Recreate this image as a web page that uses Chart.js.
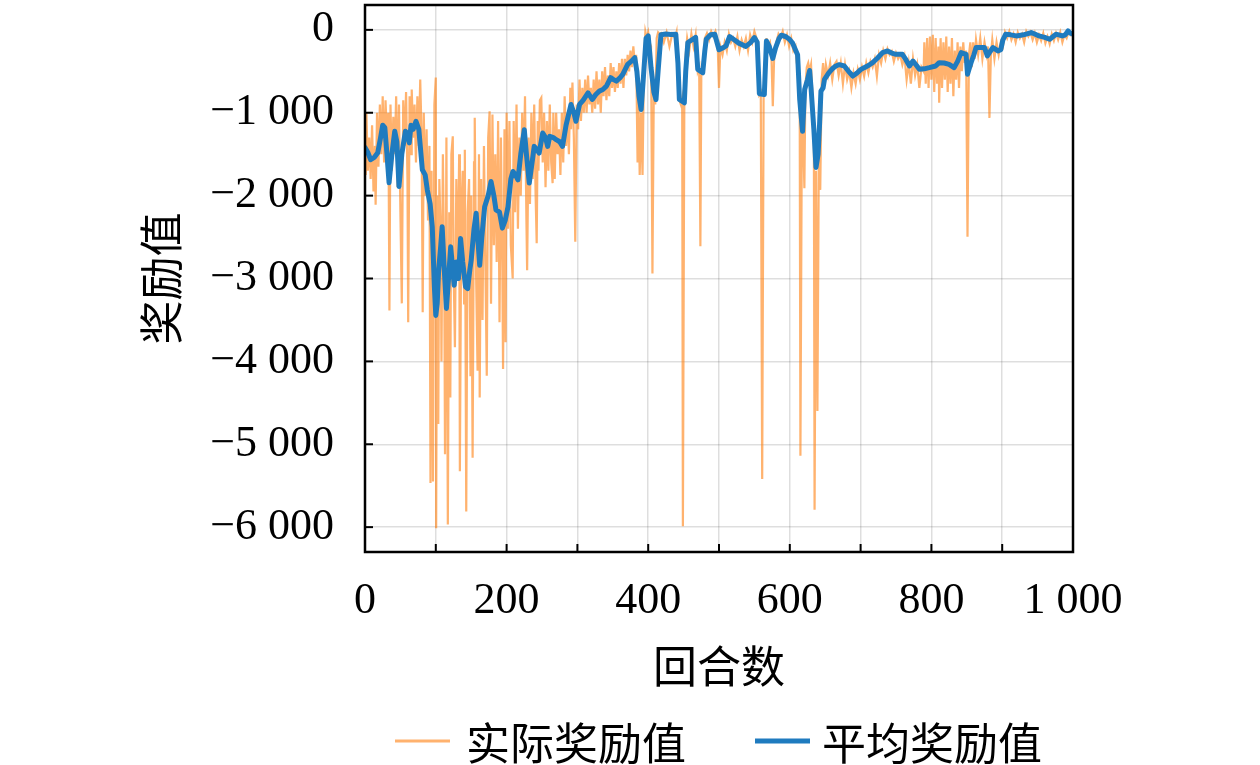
<!DOCTYPE html>
<html>
<head>
<meta charset="utf-8">
<script src="https://cdn.jsdelivr.net/npm/chart.js@4.4.1/dist/chart.umd.min.js"></script>
<style>
  html, body { margin: 0; padding: 0; background: #ffffff; }
  canvas { display: block; }
</style>
</head>
<body>
<canvas id="c" width="1260" height="765"></canvas>
<script>
// ---------------- DATA ----------------
const seriesNames = ['实际奖励值', '平均奖励值'];
const xAxisTitle = '回合数';
const yAxisTitle = '奖励值';
const episodeTicks = [0, 100, 200, 300, 400, 500, 600, 700, 800, 900, 1000];
const episodeLabelTicks = [0, 200, 400, 600, 800, 1000];
const rewardTicks = [-6000, -5000, -4000, -3000, -2000, -1000, 0];
const episodeRange = [0, 1000];
const rewardRange = [-6300, 300];

// actual (raw) reward per episode: [episode, reward]
const actualReward = [
  [0,-1200],[1,-1750],[2,-1000],[4,-1700],[6,-1300],[8,-1800],[10,-1150],[12,-1950],[14,-1400],[15,-2110],
  [17,-1000],[19,-1650],[21,-900],[23,-1500],[25,-800],[27,-1600],[29,-850],[31,-1300],[33,-1000],[34.5,-3385],
  [36,-900],[38,-1700],[40,-1050],[42,-1500],[44,-800],[46,-1900],[48,-900],[50,-2200],[52,-3300],[54,-850],
  [56,-1400],[58,-750],[60,-1800],[61,-3527],[63,-800],[65,-1500],[66,-720],[68,-1300],[70,-900],[72,-1600],
  [74,-800],[76,-1400],[78,-600],[80,-1300],[81.5,-3406],[83,-1000],[85,-2000],[87,-1200],[89,-2300],[91,-1400],
  [92.5,-5466],[94,-1700],[96,-5450],[98,-900],[100,-575],[100.5,-6012],[102,-2000],[103.5,-4756],[105,-1800],[107,-2500],
  [108,-4000],[110,-1500],[112,-3000],[113,-5120],[115,-1300],[117,-5967],[119,-2200],[120.5,-4436],[122,-1500],[124,-1285],
  [125,-2800],[127,-3830],[129,-1800],[131,-3000],[133,-1500],[134,-5325],[136,-2200],[138,-1700],[140,-3300],[141,-1446],
  [143,-5810],[145,-2200],[147,-1800],[149,-4180],[150,-2000],[152,-5164],[154,-1600],[155,-1060],[157,-3000],[159,-4113],
  [161,-1500],[162,-4436],[164,-1800],[166,-3500],[168,-1400],[170,-2800],[172,-4173],[174,-1300],[176,-982],[178,-3305],
  [180,-1022],[182,-2600],[184,-1500],[186,-2800],[188,-1100],[190,-3527],[192,-1300],[194,-2900],[195,-4093],[197,-1200],
  [198.5,-3770],[200,-1000],[202,-2400],[204,-1100],[206,-2600],[208.6,-3000],[210,-1100],[212,-2200],[214,-900],[216,-2400],
  [218,-1300],[220,-2000],[222,-1000],[224,-1700],[226,-800],[228,-2300],[229,-2900],[231,-1300],[233,-2100],[235,-1000],
  [237,-1800],[239,-900],[241,-2000],[242.5,-2575],[244,-1100],[245,-1700],[247,-850],[249,-820],[251,-1600],[253,-1000],
  [255,-1900],[257,-1100],[259,-1700],[261,-900],[263,-1600],[265,-1850],[266,-1000],[268,-1800],[270,-1000],[272,-1500],
  [274,-1200],[276,-1750],[278,-1000],[280,-1600],[282,-800],[284,-1400],[286,-1000],[288,-1500],[290,-700],[291,-1200],
  [293,-636],[295,-1300],[297,-2557],[299,-900],[301,-1200],[303,-600],[305,-1100],[307,-700],[309,-1000],[311,-600],
  [313,-1000],[315,-550],[317,-900],[319,-700],[321,-1000],[323,-600],[325,-950],[327,-500],[329,-900],[331,-600],
  [333,-1000],[335,-500],[337,-800],[339,-450],[341,-850],[343,-550],[345,-800],[347,-400],[349,-700],[351,-450],
  [353,-750],[355,-500],[357,-700],[359,-400],[361,-650],[363,-350],[365,-700],[367,-350],[369,-550],[371,-300],
  [373,-500],[375,-250],[377,-450],[379,-200],[381,-400],[383,-300],[385,-1600],[386,-700],[388,-1750],[390,-1000],
  [392,-1750],[394,-400],[396,-20],[398,-100],[400,-30],[402,-150],[404,-200],[406,-2940],[408,-600],[410,-900],
  [412,-100],[414,-30],[416,-50],[418,-40],[422,-150],[426,-30],[430,-200],[434,-50],[438,-100],[440,-30],
  [442,-600],[444,-850],[446,-900],[448,-820],[449,-5990],[451,-900],[453,-300],[455,-100],[458,-250],[461,-50],
  [464,-200],[467,-60],[470,-500],[472,-450],[473.7,-2610],[475,-550],[478,-500],[480,-100],[483,-40],[486,-120],
  [489,-20],[492,-80],[495,-20],[498,-150],[500,-700],[502,-200],[505,-300],[508,-150],[511,-250],[514,-50],
  [517,-150],[520,-100],[523,-200],[526,-80],[529,-250],[532,-120],[535,-200],[538,-100],[541,-250],[544,-60],
  [547,-150],[550,-20],[553,-100],[555,-200],[557,-780],[559,-750],[561,-5420],[563,-800],[565,-780],[567,-100],
  [569,-200],[572,-150],[574,-300],[576,-921],[578,-300],[581,-150],[584,-50],[587,-100],[590,-20],[593,-150],
  [596,-60],[599,-200],[602,-100],[605,-250],[608,-200],[610,-400],[612,-500],[614,-900],[615,-5140],[617,-1200],
  [619,-1300],[620.6,-1910],[622,-700],[624,-450],[626,-400],[628,-500],[630,-420],[632,-800],[634,-1300],[635,-5790],
  [637,-1700],[639,-4600],[641,-1500],[643,-1931],[645,-600],[647,-400],[649,-650],[651,-420],[654,-550],[657,-400],
  [660,-600],[663,-420],[666,-380],[669,-550],[672,-400],[675,-650],[678,-420],[681,-600],[684,-500],[687,-700],
  [690,-520],[693,-650],[696,-480],[699,-600],[702,-450],[705,-560],[708,-400],[711,-520],[714,-380],[717,-450],
  [720,-350],[723,-560],[726,-300],[729,-400],[732,-250],[735,-350],[738,-230],[741,-300],[744,-260],[747,-380],
  [750,-280],[753,-350],[756,-300],[759,-420],[762,-320],[765,-600],[768,-400],[771,-650],[774,-350],[777,-550],
  [780,-420],[783,-700],[786,-450],[789,-500],[790,-150],[792,-650],[794,-100],[796,-700],[798,-80],[800,-600],
  [802,-60],[804,-750],[806,-100],[808,-650],[810,-200],[811,-880],[813,-100],[815,-700],[817,-150],[819,-600],
  [821,-80],[823,-750],[825,-200],[827,-650],[829,-100],[831,-800],[833,-250],[835,-600],[837,-150],[839,-700],
  [841,-200],[843,-500],[845,-150],[847,-400],[849,-250],[851,-2497],[853,-300],[855,-150],[857,-450],[859,-150],
  [861,-350],[863,-120],[866,-300],[869,-100],[872,-350],[875,-150],[878,-300],[880,-200],[882,-1062],[884,-300],
  [886,-120],[889,-350],[892,-150],[895,-300],[898,-150],[901,-200],[904,-30],[907,-100],[910,-20],[913,-120],
  [916,-50],[919,-150],[922,-30],[925,-100],[928,-50],[931,-150],[934,-20],[937,-80],[940,-30],[943,-120],
  [946,-40],[949,-150],[952,-60],[955,-130],[958,-40],[961,-160],[964,-80],[967,-170],[970,-50],[973,-130],
  [976,-40],[979,-120],[982,-30],[985,-150],[988,-60],[991,-100],[994,-20],[997,-60],[1000,-20]
];

// moving-average reward: [episode, reward]
const averageReward = [
  [0,-1420],[4,-1480],[8,-1567],[13,-1540],[18,-1483],[22,-1300],[25,-1150],[28,-1180],[31,-1500],[34,-1845],
  [38,-1500],[42,-1224],[45,-1350],[48,-1890],[52,-1500],[57,-1224],[60,-1250],[62.5,-1364],[65,-1150],[68,-1200],
  [72,-1103],[76,-1200],[81,-1689],[85,-1750],[88,-1931],[92,-2100],[95,-2376],[98,-3100],[100,-3446],[102,-3300],
  [104,-2900],[107,-2600],[109,-2376],[112,-2900],[115,-3361],[118,-3000],[121,-2618],[124,-2900],[126,-3082],[129,-2800],
  [132,-3000],[135,-2516],[138,-2800],[142,-3100],[145,-3122],[148,-2900],[150,-2779],[154,-2400],[157,-2213],[160,-2600],
  [162,-2840],[165,-2500],[169,-2133],[174,-2000],[178,-1830],[182,-2000],[185,-2173],[190,-2200],[194,-2392],[198,-2300],
  [202,-2133],[206,-1800],[209,-1709],[213,-1760],[216,-1810],[220,-1500],[225,-1204],[228,-1500],[232,-1849],[236,-1600],
  [239,-1406],[243,-1450],[246,-1486],[251,-1244],[255,-1300],[258,-1406],[261,-1285],[266,-1300],[270,-1325],[275,-1350],
  [279,-1406],[284,-1150],[291,-900],[295,-1000],[298,-1103],[303,-900],[308,-850],[315,-759],[321,-840],[326,-780],
  [331,-739],[336,-720],[341,-679],[347,-577],[351,-600],[355,-618],[360,-580],[364,-537],[371,-416],[376,-380],
  [381,-335],[384,-500],[387,-800],[390,-961],[393,-600],[397,-100],[400,-73],[404,-456],[408,-750],[411,-840],
  [414,-497],[418,-60],[425,-50],[432,-55],[439,-53],[442,-400],[444,-840],[451,-880],[453,-500],[456,-153],
  [463,-113],[467,-90],[470,-476],[477,-517],[480,-250],[482,-113],[488,-60],[494,-53],[500,-240],[505,-220],
  [510,-193],[515,-80],[520,-110],[528,-160],[538,-200],[545,-150],[550,-93],[554,-150],[557,-770],[564,-780],
  [567,-133],[571,-200],[576,-345],[580,-214],[585,-100],[588,-65],[594,-80],[599,-110],[604,-160],[609,-260],
  [611,-300],[614,-840],[618,-1224],[621,-720],[625,-600],[628,-490],[630,-700],[634,-1204],[637,-1660],[640,-1500],
  [642,-1150],[644,-740],[647,-700],[649,-598],[655,-520],[660,-470],[665,-436],[670,-420],[677,-436],[683,-500],
  [689,-557],[695,-520],[700,-480],[705,-456],[711,-430],[717,-396],[724,-340],[731,-274],[738,-254],[744,-280],
  [750,-295],[759,-295],[764,-360],[769,-436],[774,-376],[779,-430],[783,-476],[790,-470],[797,-456],[806,-436],
  [811,-396],[818,-400],[825,-416],[832,-456],[837,-380],[842,-274],[849,-295],[851,-537],[853,-480],[856,-396],
  [860,-300],[863,-214],[870,-214],[875,-214],[879,-315],[883,-260],[887,-214],[894,-254],[898,-240],[901,-120],
  [905,-52],[912,-60],[920,-73],[930,-60],[941,-33],[946,-50],[952,-73],[960,-90],[967,-113],[972,-80],
  [976,-53],[980,-60],[985,-73],[989,-60],[993,-12],[996,-40],[1000,-50]
];

// ---------------- STYLE ----------------
const ORANGE = 'rgba(255,127,14,0.6)';
const BLUE = '#1f7bbf';
const SERIF = '"Liberation Serif", "DejaVu Serif", serif';
const CJK = '"Noto Sans CJK SC", "Noto Sans CJK JP", sans-serif';

function fmtNum(v) {
  const a = Math.abs(Math.round(v));
  let s = String(a);
  if (a >= 1000) s = s.slice(0, s.length - 3) + ' ' + s.slice(s.length - 3);
  return (v < 0 ? '\u2212' : '') + s;
}

const framePlugin = {
  id: 'frame',
  afterDatasetsDraw(chart) {
    const {ctx, chartArea: a, scales} = chart;
    ctx.save();
    ctx.strokeStyle = '#000';
    ctx.lineWidth = 2;
    rewardTicks.forEach(v => {
      const py = scales.y.getPixelForValue(v);
      ctx.beginPath(); ctx.moveTo(a.left, py); ctx.lineTo(a.left + 8, py); ctx.stroke();
    });
    episodeTicks.forEach(v => {
      const px = scales.x.getPixelForValue(v);
      ctx.beginPath(); ctx.moveTo(px, a.bottom); ctx.lineTo(px, a.bottom - 8); ctx.stroke();
    });
    ctx.lineWidth = 2.5;
    ctx.strokeRect(a.left, a.top, a.right - a.left, a.bottom - a.top);
    ctx.restore();
  }
};

const legendPlugin = {
  id: 'customLegend',
  afterDraw(chart) {
    const {ctx} = chart;
    const ds = chart.data.datasets;
    const items = [
      {x0: 395, x1: 450, tx: 466, ds: ds[0], lw: 3},
      {x0: 755, x1: 810, tx: 822, ds: ds[1], lw: 5}
    ];
    const y = 741;
    ctx.save();
    items.forEach(it => {
      ctx.strokeStyle = it.ds.borderColor;
      ctx.lineWidth = it.lw;
      ctx.beginPath(); ctx.moveTo(it.x0, y); ctx.lineTo(it.x1, y); ctx.stroke();
      ctx.fillStyle = '#000';
      ctx.font = '44px ' + CJK;
      ctx.textBaseline = 'middle';
      ctx.textAlign = 'left';
      ctx.fillText(it.ds.label, it.tx, y + 2);
    });
    ctx.restore();
  }
};

const zeroPad = s => { s.paddingTop = 0; s.paddingBottom = 0; s.paddingLeft = 0; s.paddingRight = 0; };

new Chart(document.getElementById('c'), {
  type: 'line',
  data: {
    datasets: [
      {
        label: seriesNames[0],
        data: actualReward.map(p => ({x: p[0], y: p[1]})),
        borderColor: ORANGE,
        borderWidth: 2.2,
        pointRadius: 0,
        tension: 0,
        order: 2
      },
      {
        label: seriesNames[1],
        data: averageReward.map(p => ({x: p[0], y: p[1]})),
        borderColor: BLUE,
        borderWidth: 5,
        pointRadius: 0,
        tension: 0,
        borderJoinStyle: 'round',
        borderCapStyle: 'round',
        order: 1
      }
    ]
  },
  options: {
    responsive: false,
    animation: false,
    devicePixelRatio: 1,
    layout: { padding: { top: 5, right: 187, left: 0, bottom: 0 } },
    plugins: { legend: { display: false }, tooltip: { enabled: false } },
    scales: {
      x: {
        type: 'linear',
        min: episodeRange[0],
        max: episodeRange[1],
        afterBuildTicks: s => { s.ticks = episodeTicks.map(v => ({value: v})); },
        afterFit: s => { s.height = 213; zeroPad(s); },
        grid: { color: 'rgba(0,0,0,0.13)', lineWidth: 1.5, drawTicks: false },
        border: { display: false },
        ticks: {
          autoSkip: false,
          maxRotation: 0,
          padding: 23,
          color: '#000',
          font: { family: SERIF, size: 44 },
          callback: v => episodeLabelTicks.includes(v) ? fmtNum(v) : ''
        },
        title: {
          display: true,
          text: xAxisTitle,
          color: '#000',
          font: { family: CJK, size: 44 },
          padding: { top: 0, bottom: 72 }
        }
      },
      y: {
        type: 'linear',
        min: rewardRange[0],
        max: rewardRange[1],
        afterBuildTicks: s => { s.ticks = rewardTicks.map(v => ({value: v})); },
        afterFit: s => { s.width = 365; zeroPad(s); },
        grid: { color: 'rgba(0,0,0,0.13)', lineWidth: 1.5, drawTicks: false },
        border: { display: false },
        ticks: {
          padding: 31,
          color: '#000',
          font: { family: SERIF, size: 44 },
          callback: v => fmtNum(v)
        },
        title: {
          display: true,
          text: yAxisTitle,
          color: '#000',
          font: { family: CJK, size: 44 },
          padding: { top: 135, bottom: 0 }
        }
      }
    }
  },
  plugins: [framePlugin, legendPlugin]
});
</script>
</body>
</html>
